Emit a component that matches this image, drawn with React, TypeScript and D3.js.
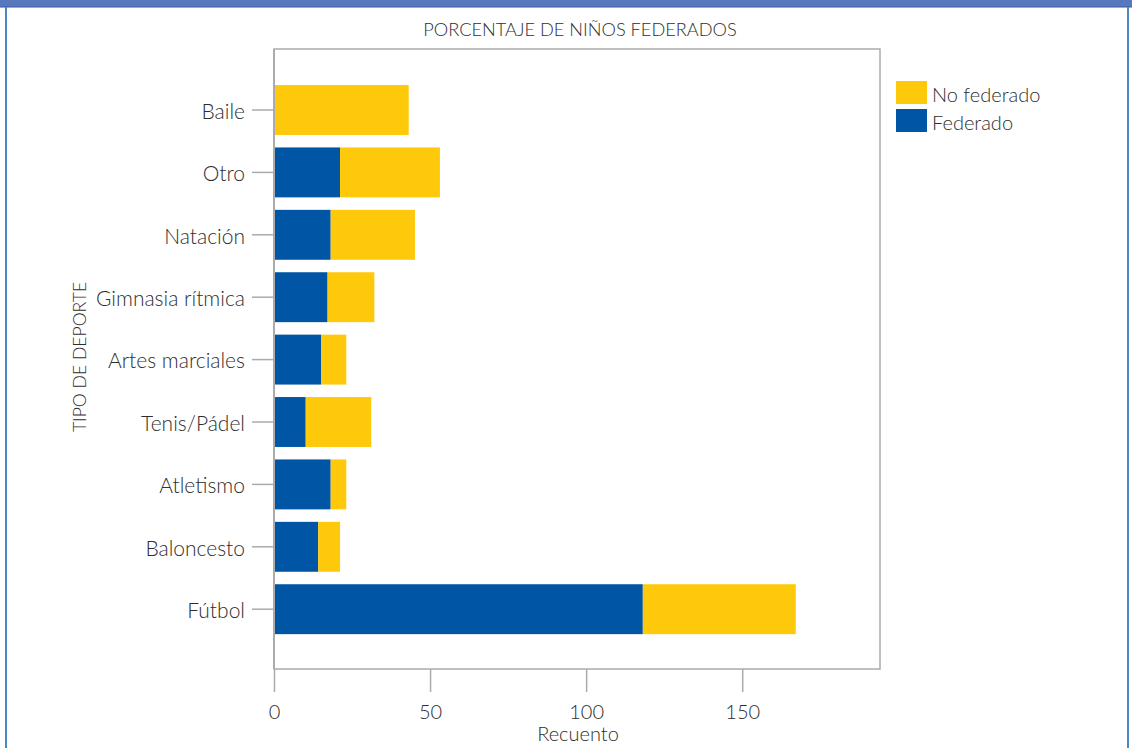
import React from "react";
import * as d3 from "d3";

const categories = [
  "Baile",
  "Otro",
  "Natación",
  "Gimnasia rítmica",
  "Artes marciales",
  "Tenis/Pádel",
  "Atletismo",
  "Baloncesto",
  "Fútbol",
];
const federado = [0, 21, 18, 17, 15, 10, 18, 14, 118];
const noFederado = [43, 32, 27, 15, 8, 21, 5, 7, 49];
const xTicks = [0, 50, 100, 150];
const seriesNames = ["No federado", "Federado"];
const title = "PORCENTAJE DE NIÑOS FEDERADOS";
const xTitle = "Recuento";
const yTitle = "TIPO DE DEPORTE";

const W = 1132;
const H = 748;
const FONT = "Lato, 'Open Sans', sans-serif";
const BLUE = "#0055A4";
const YELLOW = "#FFC90B";
const TEXT = "#2E2E2E";
const GRID = "#ABABAB";

export default function App() {
  const plot = { left: 274, right: 880, top: 49, bottom: 669 };
  const x = d3.scaleLinear().domain([0, 150]).range([274.5, 742.7]);
  const y = d3
    .scaleBand<string>()
    .domain(categories)
    .range([78.8, 640.4])
    .paddingInner(0.2)
    .paddingOuter(0.1);

  const rows = categories.map((c, i) => ({
    c,
    fed: federado[i],
    nofed: noFederado[i],
  }));

  return (
    <svg
      width={W}
      height={H}
      style={{ position: "absolute", left: 0, top: 0, background: "#fff" }}
      fontFamily={FONT}
    >
      {/* outer figure frame */}
      <rect x={0} y={0} width={W} height={7} fill="#5878BC" />
      <line x1={0} x2={W} y1={7} y2={7} stroke="#2F5DA8" strokeWidth={1} />
      <line x1={6} x2={6} y1={7} y2={H} stroke="#4C86C6" strokeWidth={2} />
      <line x1={1128} x2={1128} y1={7} y2={H} stroke="#4C86C6" strokeWidth={2} />

      {/* title */}
      <text x={580} y={36} textAnchor="middle" fontSize={18.2} fill={TEXT} fontWeight={300}>
        {title}
      </text>

      {/* plot frame */}
      <rect
        x={plot.left}
        y={plot.top}
        width={plot.right - plot.left}
        height={plot.bottom - plot.top}
        fill="none"
        stroke={GRID}
        strokeWidth={1.5}
      />

      {/* bars */}
      {rows.map((r) => (
        <g key={r.c}>
          {r.fed > 0 && (
            <rect
              x={x(0)}
              y={y(r.c)}
              width={x(r.fed) - x(0)}
              height={y.bandwidth()}
              fill={BLUE}
            />
          )}
          <rect
            x={x(r.fed)}
            y={y(r.c)}
            width={x(r.fed + r.nofed) - x(r.fed)}
            height={y.bandwidth()}
            fill={YELLOW}
          />
        </g>
      ))}

      {/* left axis line */}
      <line x1={274} x2={274} y1={plot.top} y2={plot.bottom} stroke={GRID} strokeWidth={2} />

      {/* y ticks */}
      {categories.map((c) => {
        const cy = (y(c) as number) + y.bandwidth() / 2;
        return (
          <g key={c}>
            <line x1={252} x2={273} y1={cy} y2={cy} stroke={GRID} strokeWidth={1.5} />
            <text x={245} y={cy} dy="0.42em" textAnchor="end" fontSize={21} fill={TEXT} fontWeight={300}>
              {c}
            </text>
          </g>
        );
      })}

      {/* x ticks */}
      {xTicks.map((t) => (
        <g key={t}>
          <line x1={x(t)} x2={x(t)} y1={plot.bottom} y2={692} stroke={GRID} strokeWidth={1.5} />
          <text x={x(t)} y={719} textAnchor="middle" fontSize={20} fill={TEXT} fontWeight={300}>
            {t}
          </text>
        </g>
      ))}
      <text x={578} y={741} textAnchor="middle" fontSize={20} fill={TEXT} fontWeight={300}>
        {xTitle}
      </text>

      {/* y title */}
      <text
        transform={`translate(86, 357) rotate(-90)`}
        textAnchor="middle"
        fontSize={17.6}
        fill={TEXT}
        fontWeight={300}
      >
        {yTitle}
      </text>

      {/* legend */}
      {seriesNames.map((s, i) => (
        <g key={s} transform={`translate(896, ${81 + i * 28})`}>
          <rect x={0} y={0} width={31} height={23} fill={i === 0 ? YELLOW : BLUE} />
          <text x={36} y={21} fontSize={20} fill={TEXT} fontWeight={300}>
            {s}
          </text>
        </g>
      ))}
    </svg>
  );
}
